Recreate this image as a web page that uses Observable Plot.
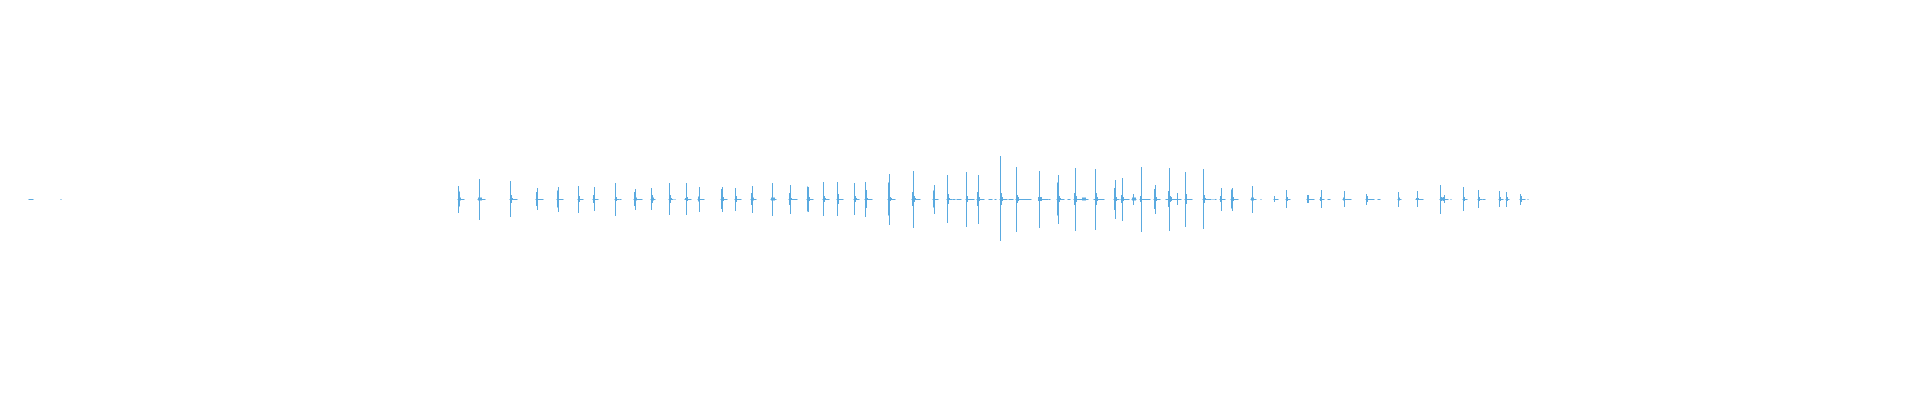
<!DOCTYPE html>
<html>
<head>
<meta charset="utf-8">
<script src="https://cdn.jsdelivr.net/npm/d3@7"></script>
<script src="https://cdn.jsdelivr.net/npm/@observablehq/plot@0.6"></script>
<style>
  html, body { margin: 0; padding: 0; background: #fff; }
  #chart svg { display: block; }
</style>
</head>
<body>
<div id="chart"></div>
<script>
// Main transient peaks (frame index, positive extent, negative extent)
const peakX = [458,479,510,537,558,578,594,615,635,651,669,686,699,722,735,752,772,790,808,823,837,854,865,889,913,934,947,966,978,1000,1016,1039,1058,1075,1095,1115,1122,1133,1141,1155,1169,1177,1185,1203,1221,1232,1252,1274,1286,1308,1321,1344,1366,1398,1417,1440,1444,1463,1478,1499,1506,1520];
const peakHi = [13,20,18,11,12,13,12,16,10,11,16,16,12,12,11,13,16,14,12,17,17,16,17,25,28,14,24,27,24,43,32,28,24,31,30,19,21,5,32,14,31,6,27,30,11,11,13,3,9,4,9,8,5,7,8,14,4,12,9,8,7,5];
const peakLo = [14,21,18,11,13,14,12,17,11,11,16,16,13,13,12,14,17,15,13,17,17,16,18,26,29,15,24,28,25,42,33,29,25,32,31,20,22,6,33,15,32,6,28,30,12,12,14,3,9,4,9,8,6,8,8,15,4,12,9,8,8,6];

// Secondary (decay) frames next to each peak: frame index and symmetric extent
const echoX = [459,460,478,480,481,511,512,536,557,579,593,616,634,636,652,653,670,671,685,687,698,721,723,736,751,753,771,773,774,789,791,807,809,824,825,838,855,856,866,867,888,890,891,912,914,915,933,948,949,967,977,979,1001,1002,1017,1018,1038,1040,1041,1057,1059,1060,1074,1076,1082,1083,1084,1085,1096,1097,1114,1116,1121,1123,1132,1134,1135,1140,1154,1156,1168,1170,1171,1186,1204,1205,1220,1231,1233,1251,1253,1287,1307,1320,1343,1367,1399,1416,1418,1441,1442,1443,1464,1479,1500,1507,1521];
const echoAmp = [7.5,1.5,1.5,1.5,1.5,4,1,7,8.5,3,4,2,7,1.5,4,1.5,4,1,1,2,2.5,10,2,3,6,1.5,1.5,1.5,1.5,6,1,12.5,2,3,1,5,3,1,9,1,16.5,2,1,7,3,1,8.5,5,1,3,7,2,6,2,4,2,2,2,2,16.5,3,1,6,3,1.5,1.5,1.5,1.5,6,2,11,2,4,2,1.5,1.5,1.5,3,10,2,8,3,2,5,4,1,3,9.5,2,1.5,1.5,2,4,2,1.5,3,1.5,1,1,2,1.5,2,2,2,2,2,3];

// Low-level tails (first and last frame of each run of near-silent signal)
const tailStart = [29,61,458,478,510,536,557,578,593,615,620,634,651,669,675,685,698,721,735,751,771,789,807,823,837,854,865,888,912,933,947,953,957,966,977,989,995,1000,1009,1016,1039,1049,1057,1068,1074,1094,1114,1121,1132,1140,1154,1166,1168,1185,1203,1213,1215,1220,1231,1251,1261,1274,1286,1307,1320,1328,1343,1366,1378,1398,1416,1440,1451,1463,1478,1483,1499,1506,1520,1528];
const tailEnd   = [33,61,464,485,517,543,563,583,598,619,621,642,655,673,675,691,704,727,741,756,776,797,813,829,843,859,872,895,920,938,952,955,961,974,984,992,996,1007,1013,1031,1048,1050,1064,1070,1088,1104,1119,1129,1136,1150,1160,1168,1181,1192,1211,1213,1216,1225,1238,1256,1261,1278,1290,1314,1324,1330,1351,1374,1380,1401,1423,1448,1451,1467,1482,1485,1503,1509,1525,1528];

const color = "#5aaae0";

const peaks = peakX.map((x, i) => ({x, hi: peakHi[i], lo: -peakLo[i]}));
const echoes = echoX.map((x, i) => ({x, hi: echoAmp[i], lo: -echoAmp[i]}));
const tails = tailStart.map((s, i) => ({x1: s - 0.5, x2: tailEnd[i] + 0.5}));

const chart = Plot.plot({
  width: 1920,
  height: 400,
  margin: 0,
  x: {domain: [0, 1920], axis: null},
  y: {domain: [-201, 199], axis: null},
  marks: [
    Plot.ruleY(tails, {x1: "x1", x2: "x2", y: 0, stroke: color, strokeWidth: 1}),
    Plot.ruleX(echoes, {x: "x", y1: "lo", y2: "hi", stroke: color, strokeWidth: 1}),
    Plot.ruleX(peaks, {x: "x", y1: "lo", y2: "hi", stroke: color, strokeWidth: 1})
  ]
});
document.getElementById("chart").appendChild(chart);
</script>
</body>
</html>
